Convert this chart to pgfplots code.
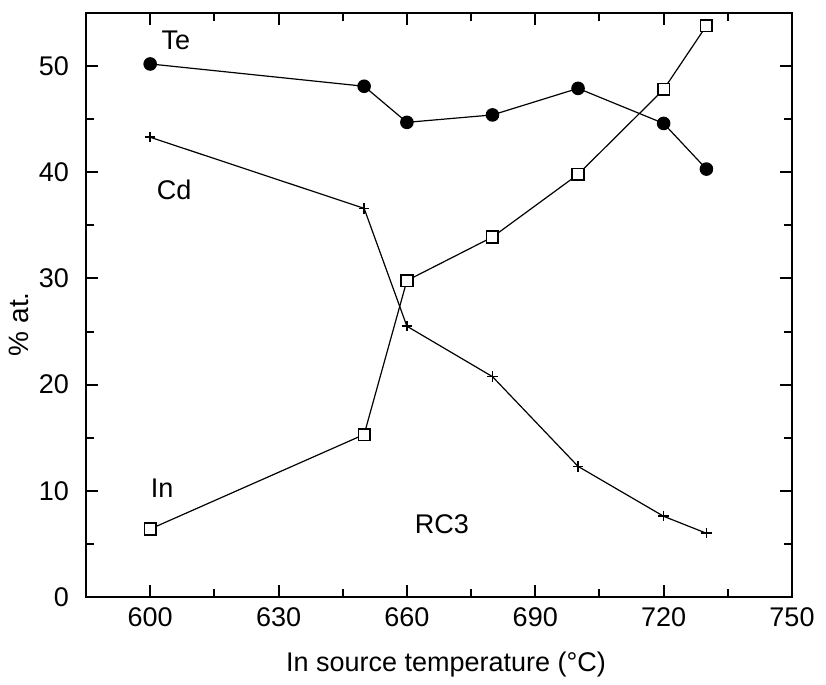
\documentclass[border=0pt]{standalone}
\usepackage{fontspec}
\setmainfont{Liberation Sans}
\usepackage{pgfplots}
\pgfplotsset{compat=1.18}
\begin{document}
\begin{tikzpicture}
\begin{axis}[
  scale only axis, width=353pt, height=292pt,
  xmin=585, xmax=750, ymin=0, ymax=55,
  xtick={600,630,...,750}, minor xtick={615,645,...,735},
  ytick={0,10,...,50}, minor ytick={5,15,...,45},
  tick align=inside, major tick length=6pt, minor tick length=3.8pt,
  axis line style={line width=1.4pt},
  every tick/.style={line width=1pt, black},
  font=\fontsize{13.5}{16}\selectfont,
  /pgf/number format/assume math mode=true,
  xticklabel style={/pgf/number format/1000 sep={}, yshift=-2pt},
  yticklabel style={xshift=-5pt},
  xlabel={In source temperature (°C)}, ylabel={\% at.},
  xlabel style={at={([yshift=-34pt]axis description cs:0.51,0)}, anchor=center},
  ylabel style={at={([xshift=-33.5pt]axis description cs:0,0.467)}, anchor=center, font=\fontsize{14}{16}\selectfont},
  clip=false,
]
\addplot[black, line width=0.6pt, mark=*, mark size=3.1pt] coordinates {
  (600,50.2) (650,48.1) (660,44.7) (680,45.4) (700,47.9) (720,44.6) (730,40.3)
};
\addplot[black, line width=0.6pt, mark=+, mark size=2.6pt, mark options={line width=0.8pt}] coordinates {
  (600,43.3) (650,36.6) (660,25.5) (680,20.75) (700,12.3) (720,7.6) (730,6.0)
};
\addplot[black, line width=0.6pt, mark=square*, mark size=2.9pt, mark options={fill=white, line width=0.8pt}] coordinates {
  (600,6.4) (650,15.3) (660,29.8) (680,33.9) (700,39.8) (720,47.8) (730,53.8)
};
\node at (axis cs:606,52.4) {Te};
\node at (axis cs:605.6,38.3) {Cd};
\node at (axis cs:602.8,10.2) {In};
\node at (axis cs:668.2,6.9) {RC3};
\end{axis}
\path ([xshift=-43pt,yshift=-43pt]current axis.south west) rectangle ([xshift=17pt,yshift=6.5pt]current axis.north east);
\end{tikzpicture}
\end{document}
